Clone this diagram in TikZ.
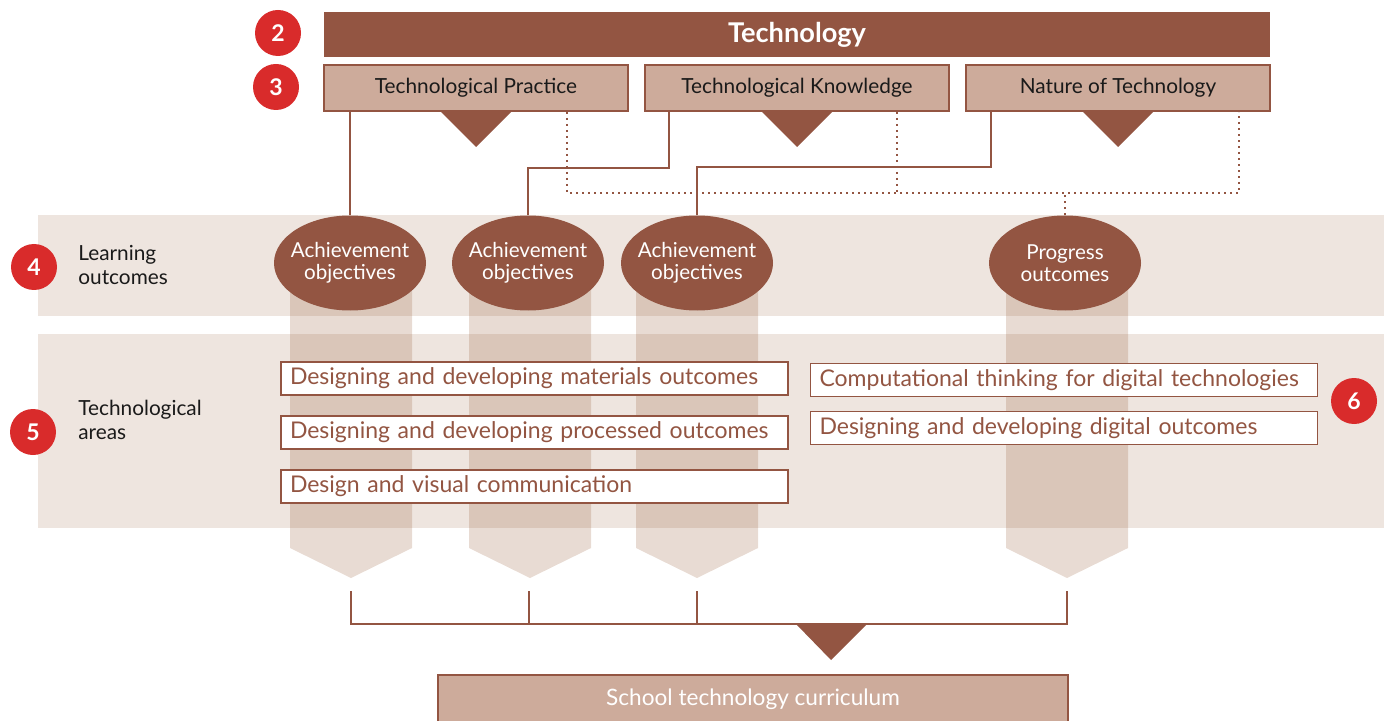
\documentclass[tikz,border=0pt]{standalone}
\usepackage{fontspec}
\setmainfont{Lato}
\usetikzlibrary{shapes.geometric}
\definecolor{brn}{HTML}{935542}
\definecolor{lightBrn}{HTML}{CDAB9B}
\definecolor{bandBg}{HTML}{EEE5DF}
\definecolor{colBrn}{HTML}{8C4B23}
\definecolor{badgeRed}{HTML}{D92B2B}
\definecolor{ink}{HTML}{1A1A1A}

\begin{document}
\begin{tikzpicture}[x=0.5pt,y=-0.5pt]
\tikzstyle{badge}=[circle,fill=badgeRed,text=white,minimum size=23pt,inner sep=0pt,font=\bfseries\fontsize{11.5}{12}\selectfont]
\tikzstyle{strand}=[rectangle,draw=brn,line width=1pt,fill=lightBrn,text=ink,minimum width=152pt,minimum height=23pt,inner sep=0pt,font=\fontsize{10.4}{11}\selectfont]
\tikzstyle{aim}=[ellipse,fill=brn,text=white,minimum width=76pt,minimum height=47.5pt,inner xsep=-8pt,inner ysep=-4pt,align=center,font=\fontsize{10.3}{11}\selectfont]
\tikzstyle{area}=[rectangle,draw=brn,line width=0.7pt,fill=white,text=brn,text width=244.5pt,inner xsep=4.5pt,inner ysep=0pt,minimum height=16.5pt,align=left,font=\fontsize{11.5}{12}\selectfont]
\tikzstyle{side}=[anchor=west,text=ink,align=left,inner sep=0pt,font=\fontsize{10.4}{12}\selectfont]
\tikzstyle{link}=[draw=brn,line width=1pt]
\tikzstyle{dotlink}=[draw=brn,line width=1pt,dotted]
\tikzstyle{column}=[fill=colBrn,opacity=0.2]

\useasboundingbox (0,0) rectangle (1384,721);

%get bands.
\fill[bandBg] (38,215) rectangle (1384,316);
\fill[bandBg] (38,334) rectangle (1384,528);

\node[side] (learnLabel) at (78,265) {Learning\\outcomes};
\node[side] (areaLabel) at (78,420) {Technological\\areas};

%columns behind the ellipses
\foreach \cx in {351,530,697,1067}
  \fill[column] (\cx-61,262) -- (\cx+61,262) -- (\cx+61,548) -- (\cx,578) -- (\cx-61,548) -- cycle;

\node[fill=brn,text=white,minimum width=473pt,minimum height=22.5pt,inner sep=0pt,font=\bfseries\fontsize{13.6}{14}\selectfont] (tech) at (797,35) {Technology};

\node[strand] (tp) at (476,88) {Technological Practice};
\node[strand] (tk) at (797,88) {Technological Knowledge};
\node[strand] (nt) at (1118,88) {Nature of Technology};

\foreach \s in {tp,tk,nt}
  \fill[brn] ([xshift=-17.5pt]\s.south) -- ([xshift=17.5pt]\s.south) -- ([yshift=-17.5pt]\s.south) -- cycle;

\node[badge] (b2) at (278,33) {2};
\node[badge] (b3) at (276,87) {3};
\node[badge] (b4) at (34,267) {4};
\node[badge] (b5) at (33,432) {5};
\node[badge] (b6) at (1354,401) {6};

\node[aim] (ao1) at (350,263) {Achievement\\objectives};
\node[aim] (ao2) at (528,263) {Achievement\\objectives};
\node[aim] (ao3) at (697,263) {Achievement\\objectives};
\node[aim] (po) at (1065,263) {Progress\\outcomes};

\draw[link] (ao1.north |- tp.south) -- (ao1.north);
\draw[link] ([xshift=-64pt]tk.south) -- ++(0,56) -| (ao2.north);
\draw[link] ([xshift=-63.5pt]nt.south) -- ++(0,55) -| (ao3.north);

\draw[dotlink] ([xshift=45.5pt]tp.south) -- ++(0,81) -| ([xshift=60.5pt]nt.south);
\draw[dotlink] ([xshift=50pt]tk.south) -- ++(0,81);
\draw[dotlink] (po.north) -- ++(0,-23);

\node[area] (matArea) at (534.5,378.5) {Designing and developing materials outcomes};
\node[area] (procArea) at (534.5,432.5) {Designing and developing processed outcomes};
\node[area] (dvcArea) at (534.5,486.5) {Design and visual communication};
\node[area] (ctArea) at (1064,380) {Computational thinking for digital technologies};
\node[area] (digArea) at (1064,428) {Designing and developing digital outcomes};

%bracket to the curriculum
\coordinate (tip1) at (351,591);
\coordinate (tip2) at (529,591);
\coordinate (tip3) at (697,591);
\coordinate (tip4) at (1067,591);
\draw[link] (tip1) -- ++(0,33) -| (tip4);
\draw[link] (tip2) -- ++(0,33);
\draw[link] (tip3) -- ++(0,33);
\fill[brn] (796,624) -- (867,624) -- (831,660) -- cycle;

\node[strand,minimum width=315pt,minimum height=24pt,text=white,font=\fontsize{11.3}{12}\selectfont] (school) at (753,699) {School technology curriculum};

\end{tikzpicture}
\end{document}
